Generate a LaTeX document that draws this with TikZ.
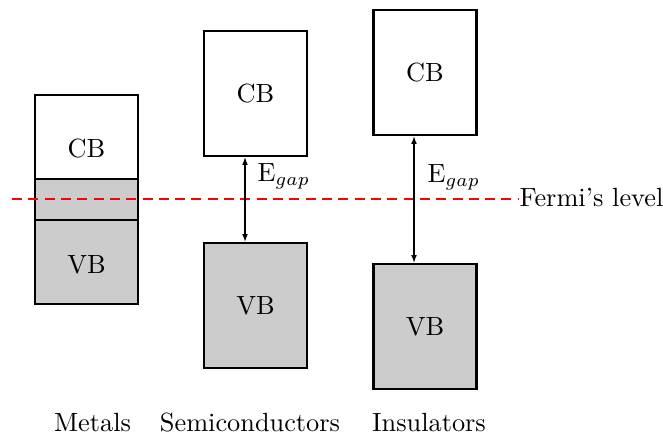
\documentclass[tikz,border=0pt]{standalone}
\usetikzlibrary{arrows.meta}
\begin{document}
\begin{tikzpicture}[x=0.38pt,y=-0.38pt,
  band/.style={draw=black,line width=0.8pt,minimum width=39.14pt,minimum height=47.5pt,inner sep=0pt},
  vband/.style={band,fill=gray!40},
  txt/.style={inner sep=0pt},
  gaparrow/.style={{Latex[length=3pt,width=2.2pt]}-{Latex[length=3pt,width=2.2pt]},line width=0.5pt},
  fermiline/.style={red,line width=0.8pt,dash pattern=on 3.8pt off 2.4pt}]
\useasboundingbox (0,0) rectangle (663,437);
% Metals
\node[vband] (mvb) at (86.5,241.5) {};
\node[band] (mcb) at (86.5,157.5) {};
\node[txt] (mcbt) at (86.5,149) {CB};
\node[txt] (mvbt) at (86.5,265) {VB};
% Semiconductors
\node[band] (scb) at (255.5,93.5) {CB};
\node[vband] (svb) at (255.5,305.5) {VB};
% Insulators
\node[band] (icb) at (425,72.5) {CB};
\node[vband] (ivb) at (425,326.5) {VB};
% Fermi level
\node[txt,anchor=base west] (fermi) at (519,206) {Fermi's level};
\coordinate (fl) at (12,199);
\draw[fermiline] (fl) -- (fl -| fermi.west);
% gap arrows
\coordinate (sx) at (245,0);
\coordinate (ix) at (414,0);
\draw[gaparrow] (scb.south -| sx) -- (svb.north -| sx);
\draw[gaparrow] (icb.south -| ix) -- (ivb.north -| ix);
\node[txt,anchor=base west] (sgap) at (257,182) {E$_{gap}$};
\node[txt,anchor=base west] (igap) at (427,183) {E$_{gap}$};
% captions
\node[txt,anchor=base] (lm) at (92.5,431) {Metals};
\node[txt,anchor=base] (ls) at (250,431) {Semiconductors};
\node[txt,anchor=base] (li) at (429,431) {Insulators};
\end{tikzpicture}
\end{document}
